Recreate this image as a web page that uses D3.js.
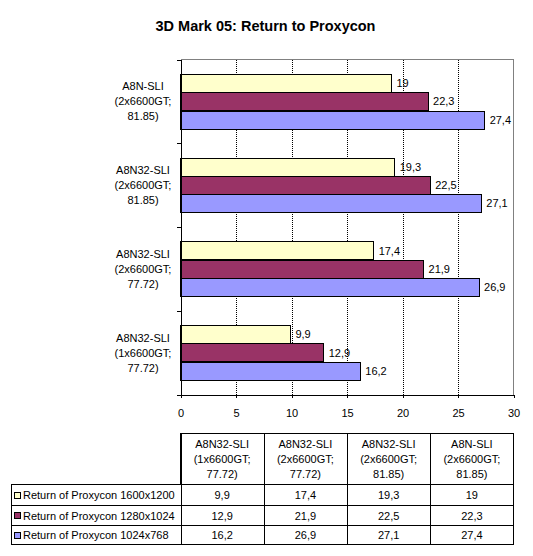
<!DOCTYPE html>
<html>
<head>
<meta charset="utf-8">
<script src="https://cdn.jsdelivr.net/npm/d3@7"></script>
<style>
  html, body { margin: 0; padding: 0; background: #fff; }
  svg { display: block; font-family: "Liberation Sans", Arial, sans-serif; }
  text { fill: #000; }
</style>
</head>
<body>
<svg id="chart" width="533" height="556"></svg>
<script>
// ---- data ----
const title = "3D Mark 05: Return to Proxycon";
const categories = [
  ["A8N32-SLI", "(1x6600GT;", "77.72)"],
  ["A8N32-SLI", "(2x6600GT;", "77.72)"],
  ["A8N32-SLI", "(2x6600GT;", "81.85)"],
  ["A8N-SLI", "(2x6600GT;", "81.85)"]
];
const seriesNames = ["Return of Proxycon 1600x1200", "Return of Proxycon 1280x1024", "Return of Proxycon 1024x768"];
const values1600 = [9.9, 17.4, 19.3, 19];
const values1280 = [12.9, 21.9, 22.5, 22.3];
const values1024 = [16.2, 26.9, 27.1, 27.4];
const xTicks = [0, 5, 10, 15, 20, 25, 30];
const colors = ["#FFFFCC", "#993366", "#9999FF"];

const seriesValues = [values1600, values1280, values1024];
const catIdx = categories.map((c, i) => i);

const svg = d3.select("#chart");
const fmt = v => String(v).replace(".", ",");

// ---- scales ----
const pLeft = 180.5, pRight = 513.5, pTop = 59.5, pBottom = 394.5;
const x = d3.scaleLinear().domain([0, 30]).range([pLeft, pRight]);
// top of chart shows last category
const y = d3.scaleBand().domain(catIdx.slice().reverse()).range([pTop, pBottom])
  .paddingInner(0.343).paddingOuter(0.1715);
const ySub = d3.scaleBand().domain([0, 1, 2]).range([0, y.bandwidth()]);
const yEdge = d3.scaleLinear().domain([0, categories.length]).range([pTop, pBottom]);

// ---- title ----
svg.append("text")
  .attr("x", 265.5).attr("y", 30.5)
  .attr("text-anchor", "middle")
  .style("font-size", "14.5px").style("font-weight", "bold")
  .text(title);

// ---- plot frame (gray top/right) ----
svg.append("path")
  .attr("d", `M${pLeft},${pTop}H${pRight}V${pBottom}`)
  .attr("fill", "none").attr("stroke", "#808080").attr("shape-rendering", "crispEdges");

// ---- gridlines ----
svg.append("g").selectAll("line").data(xTicks.filter(t => t > 0 && t < 30)).join("line")
  .attr("x1", d => Math.round(x(d)) + 0.5).attr("x2", d => Math.round(x(d)) + 0.5)
  .attr("y1", pTop).attr("y2", pBottom)
  .attr("stroke", "#000").attr("stroke-dasharray", "1,1").attr("shape-rendering", "crispEdges");

// ---- bars ----
const bars = [];
seriesValues.forEach((vals, s) => vals.forEach((v, c) => bars.push({ s, c, v })));
svg.append("g").selectAll("rect").data(bars).join("rect")
  .attr("x", x(0))
  .attr("y", d => Math.round(y(d.c) + ySub(d.s)) + 0.5)
  .attr("width", d => Math.round(x(d.v) - x(0)))
  .attr("height", d => Math.round(ySub.bandwidth()))
  .attr("fill", d => colors[d.s])
  .attr("stroke", "#000").attr("stroke-width", 1)
  .attr("shape-rendering", "crispEdges");

// ---- value labels ----
svg.append("g").selectAll("text").data(bars).join("text")
  .attr("x", d => x(d.v) + 5)
  .attr("y", d => y(d.c) + ySub(d.s) + ySub.bandwidth() / 2 + 4)
  .style("font-size", "11px")
  .text(d => fmt(d.v));

// ---- x axis ----
const xAxis = svg.append("g")
  .attr("transform", `translate(0,${pBottom})`)
  .call(d3.axisBottom(x).tickValues(xTicks).tickSize(3).tickPadding(12).tickSizeOuter(0));
xAxis.select(".domain").attr("stroke", "#000").attr("shape-rendering", "crispEdges");
xAxis.selectAll(".tick line").attr("stroke", "#000").attr("shape-rendering", "crispEdges");
xAxis.selectAll(".tick text").style("font-size", "11px").style("font-family", "'Liberation Sans', Arial, sans-serif");

// ---- y axis ----
const yAxis = svg.append("g")
  .attr("transform", `translate(${pLeft},0)`)
  .call(d3.axisLeft(yEdge).tickValues(d3.range(categories.length + 1)).tickSize(4).tickFormat("").tickSizeOuter(0));
yAxis.select(".domain").attr("stroke", "#000").attr("shape-rendering", "crispEdges");
yAxis.selectAll(".tick line").attr("stroke", "#000").attr("shape-rendering", "crispEdges");

// ---- category labels ----
const catG = svg.append("g").selectAll("text").data(catIdx).join("text")
  .attr("text-anchor", "middle")
  .style("font-size", "11px");
catG.each(function(c) {
  const cy = y(c) + y.bandwidth() / 2;
  d3.select(this).selectAll("tspan").data(categories[c]).join("tspan")
    .attr("x", 143)
    .attr("y", (d, i) => cy + (i - 1) * 15 + 4)
    .text(d => d);
});

// ---- data table ----
const tLeft = 11.5, tTop = 433.5;
const rowLines = [484.5, 505.5, 525.5, 544.5];
const col = d3.scaleBand().domain(catIdx).range([pLeft, pRight]);
const tbl = svg.append("g").attr("shape-rendering", "crispEdges");
// header box
tbl.append("path")
  .attr("d", `M${pLeft},${rowLines[0]}V${tTop}H${pRight}V${rowLines[3]}H${tLeft}V${rowLines[0]}H${pRight}`)
  .attr("fill", "none").attr("stroke", "#000");
tbl.selectAll("line.h").data(rowLines.slice(1, 3)).join("line").attr("class", "h")
  .attr("x1", tLeft).attr("x2", pRight).attr("y1", d => d).attr("y2", d => d).attr("stroke", "#000");
tbl.selectAll("line.v").data(catIdx).join("line").attr("class", "v")
  .attr("x1", d => Math.round(col(d)) + 0.5).attr("x2", d => Math.round(col(d)) + 0.5)
  .attr("y1", tTop).attr("y2", rowLines[3]).attr("stroke", "#000");

// header text
const hdr = svg.append("g").selectAll("text").data(catIdx).join("text")
  .attr("text-anchor", "middle").style("font-size", "11px");
hdr.each(function(c) {
  const cx = col(c) + col.bandwidth() / 2;
  const cy = (tTop + rowLines[0]) / 2;
  d3.select(this).selectAll("tspan").data(categories[c]).join("tspan")
    .attr("x", cx)
    .attr("y", (d, i) => cy + (i - 1) * 15.2 + 4)
    .text(d => d);
});

// rows
seriesNames.forEach((name, s) => {
  const cy = (rowLines[s] + rowLines[s + 1]) / 2;
  svg.append("rect")
    .attr("x", 14.5).attr("y", Math.round(cy - 3.5) + 0.5).attr("width", 6).attr("height", 6)
    .attr("fill", colors[s]).attr("stroke", "#000").attr("shape-rendering", "crispEdges");
  svg.append("text").attr("x", 23).attr("y", cy + 4).style("font-size", "11px").text(name);
  svg.append("g").selectAll("text").data(seriesValues[s]).join("text")
    .attr("x", (d, c) => col(c) + col.bandwidth() / 2)
    .attr("y", cy + 4)
    .attr("text-anchor", "middle").style("font-size", "11px")
    .text(d => fmt(d));
});
</script>
</body>
</html>
